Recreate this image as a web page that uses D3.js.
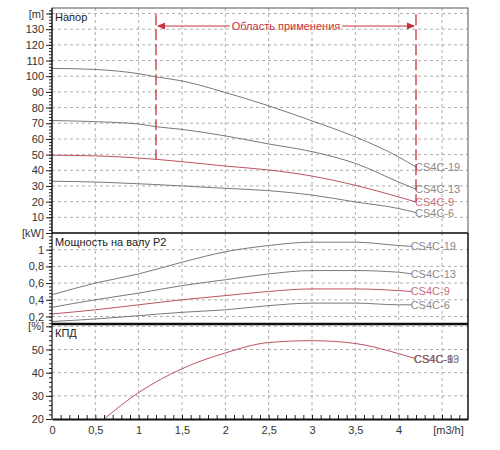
<!DOCTYPE html>
<html>
<head>
<meta charset="utf-8">
<script src="https://cdn.jsdelivr.net/npm/d3@7"></script>
<style>
  body { margin: 0; background: #fff; }
  text { font-family: "Liberation Sans", Arial, sans-serif; }
</style>
</head>
<body>
<div id="chart"></div>
<script>
// --- data ---
const models = ["CS4C-19", "CS4C-13", "CS4C-9", "CS4C-6"];
const modelColors = ["#6a6a6a", "#6a6a6a", "#b4404c", "#6a6a6a"];
const labelColors = ["#8a8a8a", "#8a8a8a", "#c8707a", "#8a8a8a"];

// напор, m
const qHead = [0, 0.5, 1, 1.2, 1.5, 2, 2.5, 3, 3.5, 4, 4.2];
const head = [
  [105, 104.3, 101.6, 99.6, 97, 89.6, 81.1, 71.5, 61.3, 48.5, 42.1],
  [71.7, 71, 69.5, 67.8, 66.1, 61.9, 56.8, 51.9, 44.4, 32.5, 27.9],
  [49.6, 49.2, 47.8, 47, 45.5, 42.7, 40.2, 36.3, 30.4, 23, 19.8],
  [33, 32.5, 31.4, 30.9, 30, 28.5, 27, 24.2, 19.8, 15.6, 13]
];

// мощность P2, kW
const qPower = [0, 0.5, 1, 1.5, 2, 2.5, 3, 3.5, 4, 4.15];
const power = [
  [0.46, 0.60, 0.71, 0.85, 0.975, 1.05, 1.09, 1.09, 1.05, 1.04],
  [0.31, 0.40, 0.48, 0.57, 0.64, 0.71, 0.75, 0.75, 0.73, 0.71],
  [0.23, 0.28, 0.34, 0.40, 0.45, 0.50, 0.53, 0.53, 0.51, 0.50],
  [0.14, 0.17, 0.21, 0.25, 0.28, 0.33, 0.36, 0.36, 0.34, 0.34]
];

// КПД, %
const qEff = [0.6, 1, 1.5, 2, 2.5, 3, 3.5, 4, 4.2];
const eff = [20, 31.4, 41.7, 48.5, 53, 53.8, 52.6, 48.2, 46];

const rangeQ = [1.2, 4.2];   // область применения

const xTicks = [0, 0.5, 1, 1.5, 2, 2.5, 3, 3.5, 4, 4.5];
const headTicks = [10, 20, 30, 40, 50, 60, 70, 80, 90, 100, 110, 120, 130, 140];
const powerTicks = [0.2, 0.4, 0.6, 0.8, 1, 1.2];
const effTicks = [20, 30, 40, 50, 60];

// --- layout ---
const W = 500, H = 450;
const left = 52, right = 468;
const svg = d3.select("#chart").append("svg")
  .attr("width", W).attr("height", H);

const x = d3.scaleLinear().domain([0, 4.8]).range([left, right]);
const yH = d3.scaleLinear().domain([0, 143.5]).range([233, 8]);
const yP = d3.scaleLinear().domain([0.11, 1.2]).range([324, 233]);
const yE = d3.scaleLinear().domain([20, 61]).range([419, 324]);

const fmt = d => String(d).replace(".", ",");

// сетка + ось Y для панели
function panel(y, ticks, minorStep, unit, title) {
  const [y0, y1] = y.range();
  const g = svg.append("g");
  const top = Math.min(y0, y1), bottom = Math.max(y0, y1);

  // вертикальная сетка
  g.selectAll(".vg").data(xTicks.slice(1))
    .enter().append("line")
      .attr("x1", d => x(d)).attr("x2", d => x(d))
      .attr("y1", top).attr("y2", bottom)
      .attr("stroke", "#9a9a9a").attr("stroke-width", 0.8)
      .attr("stroke-dasharray", "3,3");

  // горизонтальная сетка
  g.selectAll(".hg").data(ticks.filter(t => y(t) > top + 1 && y(t) < bottom - 1))
    .enter().append("line")
      .attr("x1", left).attr("x2", right)
      .attr("y1", d => y(d)).attr("y2", d => y(d))
      .attr("stroke", "#9a9a9a").attr("stroke-width", 0.8)
      .attr("stroke-dasharray", "3,3");

  // малые засечки
  const d0 = y.domain();
  const minor = d3.range(Math.ceil(d0[0] / minorStep) * minorStep, d0[1], minorStep);
  g.append("g")
    .attr("transform", `translate(${left},0)`)
    .call(d3.axisLeft(y).tickValues(minor).tickSize(3).tickFormat(""))
    .call(a => a.select(".domain").remove())
    .selectAll("line").attr("stroke", "#222");

  // основные засечки
  const ax = g.append("g")
    .attr("transform", `translate(${left},0)`)
    .call(d3.axisLeft(y).tickValues(ticks).tickSize(6).tickPadding(2)
      .tickFormat((d, i) => i === ticks.length - 1 ? unit : fmt(d)));
  ax.select(".domain").remove();
  ax.selectAll("line").attr("stroke", "#222");
  ax.selectAll("text").attr("fill", "#333").style("font-size", "11px");

  g.append("text")
    .attr("x", left + 3).attr("y", top + 13)
    .attr("fill", "#222").style("font-size", "11px")
    .text(title);
  return g;
}

panel(yH, headTicks, 2, "[m]", "Напор");
panel(yP, powerTicks, 0.04, "[kW]", "Мощность на валу P2");
panel(yE, effTicks, 2, "[%]", "КПД");

const line = (xs, ys, y) => d3.line()
  .x((d, i) => x(xs[i]))
  .y(d => y(d))
  .curve(d3.curveMonotoneX)(ys);

// кривые напора
models.forEach((m, k) => {
  svg.append("path")
    .attr("d", line(qHead, head[k], yH))
    .attr("fill", "none").attr("stroke", modelColors[k]).attr("stroke-width", 0.9);
  svg.append("text")
    .attr("x", x(qHead[qHead.length - 1]) - 1)
    .attr("y", yH(head[k][head[k].length - 1]) + 4)
    .attr("fill", labelColors[k]).style("font-size", "11px")
    .text(m);
});

// кривые мощности
models.forEach((m, k) => {
  svg.append("path")
    .attr("d", line(qPower, power[k], yP))
    .attr("fill", "none").attr("stroke", modelColors[k]).attr("stroke-width", 0.9);
  svg.append("text")
    .attr("x", x(qPower[qPower.length - 1]) - 1)
    .attr("y", yP(power[k][power[k].length - 1]) + 4)
    .attr("fill", labelColors[k]).style("font-size", "11px")
    .text(m);
});

// КПД (одна кривая для всех моделей, подписи наложены как в оригинале)
svg.append("path")
  .attr("d", line(qEff, eff, yE))
  .attr("fill", "none").attr("stroke", modelColors[2]).attr("stroke-width", 0.9);
[0, 1, 3, 2].forEach(k => {
  svg.append("text")
    .attr("x", x(qEff[qEff.length - 1]) - 2)
    .attr("y", yE(eff[eff.length - 1]) + 4)
    .attr("fill", k === 2 ? "#a05060" : "#777").attr("fill-opacity", 0.75)
    .style("font-size", "11px")
    .text(models[k]);
});

// область применения
const red = "#c8303c";
const redHead = q => head[2][Math.min(d3.bisectLeft(qHead, q), qHead.length - 1)];
rangeQ.forEach(q => {
  svg.append("line")
    .attr("x1", x(q)).attr("x2", x(q))
    .attr("y1", yH(139.5)).attr("y2", yH(redHead(q)))
    .attr("stroke", red).attr("stroke-width", 1.3)
    .attr("stroke-dasharray", "11,4");
});
const arrowY = yH(132);
const midQ = (rangeQ[0] + rangeQ[1]) / 2;
const label = svg.append("text")
  .attr("x", x(midQ)).attr("y", arrowY + 4)
  .attr("text-anchor", "middle")
  .attr("fill", red).style("font-size", "11px")
  .text("Область применения");
const tw = label.node().getComputedTextLength();
svg.append("line")
  .attr("x1", x(rangeQ[0]) + 2).attr("x2", x(midQ) - tw / 2 - 2)
  .attr("y1", arrowY).attr("y2", arrowY)
  .attr("stroke", red).attr("stroke-width", 1);
svg.append("line")
  .attr("x1", x(midQ) + tw / 2 + 2).attr("x2", x(rangeQ[1]) - 2)
  .attr("y1", arrowY).attr("y2", arrowY)
  .attr("stroke", red).attr("stroke-width", 1);
[[x(rangeQ[0]) + 1, 1], [x(rangeQ[1]) - 1, -1]].forEach(([px, s]) => {
  svg.append("path")
    .attr("d", `M${px},${arrowY} l${8 * s},-3.5 l0,7 Z`)
    .attr("fill", red);
});

// рамки
svg.append("rect")
  .attr("x", left).attr("y", 8).attr("width", right - left).attr("height", 225)
  .attr("fill", "none").attr("stroke", "#555").attr("stroke-width", 1);
svg.append("line").attr("x1", left).attr("x2", right).attr("y1", 233).attr("y2", 233)
  .attr("stroke", "#222").attr("stroke-width", 1.5);
svg.append("line").attr("x1", left).attr("x2", right).attr("y1", 324).attr("y2", 324)
  .attr("stroke", "#111").attr("stroke-width", 2.5);
svg.append("line").attr("x1", right).attr("x2", right).attr("y1", 233).attr("y2", 419)
  .attr("stroke", "#111").attr("stroke-width", 1.5);
svg.append("line").attr("x1", left).attr("x2", left).attr("y1", 8).attr("y2", 419)
  .attr("stroke", "#111").attr("stroke-width", 1.2);

// ось X
const xMinor = d3.range(0.1, 4.8, 0.1);
svg.append("g")
  .attr("transform", "translate(0,419)")
  .call(d3.axisTop(x).tickValues(xMinor).tickSize(4).tickFormat(""))
  .call(a => a.select(".domain").remove())
  .selectAll("line").attr("stroke", "#222");
const xa = svg.append("g")
  .attr("transform", "translate(0,419)")
  .call(d3.axisBottom(x).tickValues(xTicks).tickSize(0).tickPadding(7)
    .tickFormat((d, i) => i === xTicks.length - 1 ? "[m3/h]" : fmt(d)));
xa.select(".domain").attr("stroke", "#111").attr("stroke-width", 2);
xa.selectAll("text").attr("fill", "#333").style("font-size", "11px");
xa.selectAll(".tick").filter((d, i) => i === xTicks.length - 1)
  .select("text").attr("dx", 6);
</script>
</body>
</html>
